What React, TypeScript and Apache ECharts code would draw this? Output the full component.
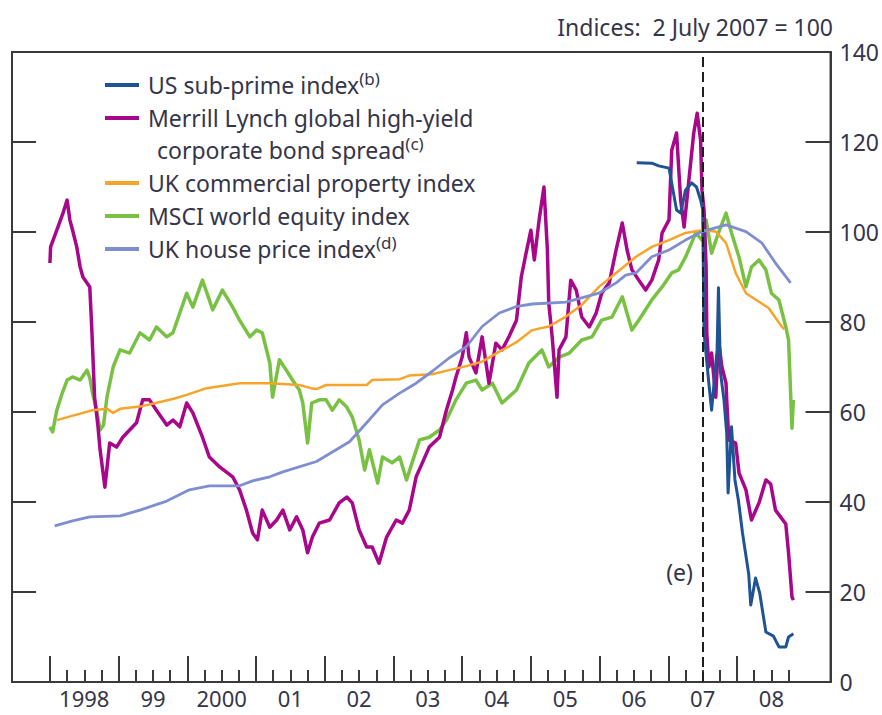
import React, { useEffect, useRef } from "react";
import * as echarts from "echarts";

// ---- Data (decimal years, index values: 2 July 2007 = 100) ----
const subPrimeDates = [2006.54, 2006.76, 2006.86, 2007.01, 2007.12, 2007.18, 2007.25, 2007.34, 2007.41, 2007.47, 2007.5, 2007.52, 2007.59, 2007.63, 2007.71, 2007.73, 2007.76, 2007.81, 2007.85, 2007.87, 2007.92, 2007.97, 2008.02, 2008.08, 2008.17, 2008.2, 2008.27, 2008.33, 2008.42, 2008.53, 2008.61, 2008.71, 2008.75, 2008.82];
const subPrimeValues = [115.4, 115.3, 114.7, 114.2, 104.9, 104.2, 109.3, 110.9, 110.0, 107.1, 105.0, 77.6, 66.4, 60.4, 73.8, 87.6, 68.7, 62.7, 55.3, 42.0, 56.7, 44.9, 40.4, 33.1, 24.0, 17.1, 23.1, 19.8, 11.1, 10.2, 7.8, 7.8, 10.0, 10.7];

const merrillDates = [1998.0, 1998.01, 1998.1, 1998.19, 1998.25, 1998.29, 1998.33, 1998.39, 1998.44, 1998.48, 1998.58, 1998.61, 1998.65, 1998.7, 1998.73, 1998.8, 1998.87, 1998.97, 1999.06, 1999.16, 1999.26, 1999.35, 1999.45, 1999.55, 1999.7, 1999.79, 1999.89, 1999.99, 2000.08, 2000.22, 2000.32, 2000.47, 2000.66, 2000.76, 2000.86, 2000.95, 2001.02, 2001.09, 2001.2, 2001.3, 2001.39, 2001.49, 2001.59, 2001.68, 2001.75, 2001.82, 2001.92, 2002.07, 2002.21, 2002.32, 2002.4, 2002.5, 2002.61, 2002.69, 2002.79, 2002.9, 2003.04, 2003.13, 2003.23, 2003.33, 2003.42, 2003.52, 2003.67, 2003.77, 2003.86, 2003.91, 2004.0, 2004.06, 2004.1, 2004.2, 2004.29, 2004.39, 2004.49, 2004.58, 2004.68, 2004.79, 2004.86, 2004.93, 2005.0, 2005.05, 2005.12, 2005.19, 2005.24, 2005.26, 2005.31, 2005.38, 2005.41, 2005.51, 2005.58, 2005.66, 2005.74, 2005.85, 2005.95, 2006.03, 2006.14, 2006.24, 2006.33, 2006.4, 2006.47, 2006.57, 2006.67, 2006.76, 2006.86, 2006.91, 2007.01, 2007.05, 2007.12, 2007.18, 2007.23, 2007.3, 2007.37, 2007.42, 2007.47, 2007.49, 2007.52, 2007.55, 2007.56, 2007.59, 2007.63, 2007.69, 2007.73, 2007.78, 2007.84, 2007.85, 2007.88, 2007.98, 2008.03, 2008.13, 2008.21, 2008.32, 2008.42, 2008.49, 2008.56, 2008.71, 2008.75, 2008.8, 2008.82];
const merrillValues = [93.1, 96.7, 100.4, 104.2, 107.1, 102.7, 100.4, 96.7, 92.2, 90.0, 87.8, 78.2, 63.3, 56.7, 51.6, 43.3, 53.1, 52.2, 54.4, 56.0, 57.6, 62.7, 62.7, 60.4, 57.1, 58.2, 56.7, 62.0, 59.8, 54.4, 50.0, 47.8, 45.6, 42.7, 38.2, 33.1, 31.6, 38.2, 34.4, 36.0, 38.2, 33.8, 36.7, 33.8, 28.7, 32.2, 35.3, 36.0, 39.8, 41.1, 39.8, 33.8, 30.0, 30.0, 26.4, 32.2, 36.0, 35.3, 38.2, 45.6, 48.7, 52.2, 54.4, 60.4, 64.9, 67.8, 72.2, 77.6, 72.2, 68.7, 76.7, 66.4, 75.3, 73.8, 76.7, 80.4, 90.0, 95.3, 100.4, 93.8, 102.7, 110.0, 96.0, 84.2, 76.7, 63.3, 73.8, 76.7, 89.3, 87.1, 81.1, 78.9, 82.0, 86.4, 88.7, 96.0, 102.0, 96.0, 91.6, 89.3, 87.1, 89.3, 93.8, 99.8, 102.7, 118.2, 122.0, 107.1, 101.1, 111.6, 122.0, 126.4, 120.4, 109.3, 104.9, 92.2, 77.6, 70.0, 73.1, 63.3, 76.0, 70.0, 66.4, 62.7, 53.8, 53.1, 46.4, 42.7, 36.0, 39.8, 44.9, 44.0, 38.2, 35.1, 28.7, 18.9, 18.2];

const commercialDates = [1998.1, 1998.48, 1998.62, 1998.83, 1998.92, 1999.02, 1999.31, 1999.79, 1999.99, 2000.28, 2000.76, 2001.2, 2001.63, 2001.8, 2001.88, 2002.02, 2002.61, 2002.69, 2003.09, 2003.23, 2003.56, 2003.81, 2004.06, 2004.29, 2004.54, 2004.78, 2005.02, 2005.26, 2005.51, 2005.74, 2005.99, 2006.24, 2006.53, 2006.76, 2007.01, 2007.25, 2007.49, 2007.69, 2007.84, 2007.98, 2008.13, 2008.32, 2008.46, 2008.65, 2008.69];
const commercialValues = [58.2, 59.8, 60.4, 60.7, 59.8, 60.7, 61.2, 62.9, 63.8, 65.3, 66.4, 66.4, 66.0, 65.3, 65.1, 66.0, 66.0, 67.1, 67.3, 68.1, 68.4, 69.3, 70.2, 71.2, 73.4, 75.4, 78.2, 79.0, 81.2, 83.8, 87.8, 90.9, 94.5, 96.7, 98.2, 99.8, 100.4, 100.1, 97.6, 90.9, 86.4, 84.5, 83.1, 79.0, 78.4];

const msciDates = [1998.0, 1998.04, 1998.1, 1998.17, 1998.25, 1998.33, 1998.44, 1998.54, 1998.58, 1998.62, 1998.68, 1998.73, 1998.78, 1998.83, 1998.92, 1999.02, 1999.16, 1999.31, 1999.45, 1999.55, 1999.7, 1999.79, 1999.89, 1999.99, 2000.08, 2000.22, 2000.37, 2000.51, 2000.66, 2000.76, 2000.91, 2001.01, 2001.09, 2001.2, 2001.24, 2001.34, 2001.44, 2001.53, 2001.63, 2001.68, 2001.75, 2001.81, 2001.92, 2002.02, 2002.11, 2002.21, 2002.32, 2002.4, 2002.5, 2002.58, 2002.65, 2002.77, 2002.84, 2002.98, 2003.09, 2003.19, 2003.27, 2003.38, 2003.52, 2003.67, 2003.77, 2003.91, 2004.06, 2004.2, 2004.29, 2004.44, 2004.58, 2004.79, 2004.97, 2005.16, 2005.26, 2005.41, 2005.56, 2005.74, 2005.89, 2006.03, 2006.18, 2006.33, 2006.47, 2006.57, 2006.76, 2006.91, 2007.05, 2007.15, 2007.25, 2007.4, 2007.49, 2007.55, 2007.63, 2007.73, 2007.84, 2007.92, 2008.03, 2008.13, 2008.21, 2008.32, 2008.42, 2008.5, 2008.61, 2008.71, 2008.75, 2008.78, 2008.8, 2008.82];
const msciValues = [56.7, 55.6, 60.4, 63.8, 67.1, 67.8, 67.1, 69.3, 67.6, 64.2, 60.4, 56.0, 57.1, 63.3, 70.0, 73.8, 73.1, 77.6, 76.0, 78.9, 76.7, 77.6, 82.0, 86.4, 83.3, 89.3, 82.7, 87.1, 83.3, 80.4, 76.7, 78.2, 77.6, 70.9, 63.3, 71.6, 69.3, 67.1, 64.9, 62.0, 53.1, 62.0, 62.7, 62.7, 60.4, 62.7, 61.1, 58.9, 53.8, 47.1, 51.6, 44.2, 50.0, 48.7, 50.0, 44.9, 48.7, 53.8, 54.4, 56.0, 58.2, 62.7, 66.4, 67.1, 64.9, 66.4, 62.0, 64.9, 70.9, 73.8, 70.0, 72.2, 73.1, 76.0, 76.7, 80.4, 81.1, 85.6, 78.2, 80.4, 84.9, 87.8, 90.9, 91.6, 94.4, 99.8, 98.2, 102.7, 95.3, 99.8, 104.2, 99.8, 94.4, 87.8, 92.2, 93.8, 91.6, 86.4, 84.9, 78.9, 76.0, 64.2, 56.4, 62.7];

const houseDates = [1998.07, 1998.33, 1998.58, 1999.02, 1999.31, 1999.7, 2000.03, 2000.32, 2000.76, 2000.95, 2001.2, 2001.39, 2001.88, 2002.36, 2002.61, 2002.84, 2003.09, 2003.33, 2003.56, 2003.81, 2004.06, 2004.29, 2004.54, 2004.78, 2005.02, 2005.51, 2005.99, 2006.24, 2006.38, 2006.53, 2006.76, 2007.01, 2007.25, 2007.49, 2007.84, 2008.13, 2008.36, 2008.56, 2008.78];
const houseValues = [34.7, 35.8, 36.7, 36.9, 38.2, 40.2, 42.7, 43.6, 43.6, 44.7, 45.6, 46.7, 49.0, 53.4, 57.6, 61.6, 64.2, 66.4, 69.0, 72.0, 74.5, 79.0, 82.0, 83.4, 84.0, 84.4, 86.4, 88.7, 90.4, 90.9, 94.5, 96.0, 98.2, 100.1, 101.6, 100.1, 97.6, 93.1, 88.7];

// ---- Axis ticks and labels ----
const yearTicks = [1998, 1999, 2000, 2001, 2002, 2003, 2004, 2005, 2006, 2007, 2008];
const yearLabelPositions = [1998.5, 1999.5, 2000.5, 2001.5, 2002.5, 2003.5, 2004.5, 2005.5, 2006.5, 2007.5, 2008.5];
const yearLabels = ["1998", "99", "2000", "01", "02", "03", "04", "05", "06", "07", "08"];
const quarterTicks: number[] = [];
yearTicks.forEach((y) => { quarterTicks.push(y + 0.25, y + 0.5, y + 0.75); });
const markerDate = 2007.5; // 2 July 2007

const names = {
  subPrime: "US sub-prime index",
  merrill: "Merrill Lynch global high-yield corporate bond spread",
  commercial: "UK commercial property index",
  msci: "MSCI world equity index",
  house: "UK house price index",
};

const FONT = "'Noto Sans', sans-serif";
const TEXT = "#35354a";
const AXIS = "#3a3a3a";
const FS = 23;
const X_MIN = 1997.448;
const X_MAX = 2009.361;

const zip = (d: number[], v: number[]) => d.map((x, i) => [x, v[i]]);

const richSup = {
  sup: { fontSize: 17, lineHeight: 17, verticalAlign: "top", padding: [0, 0, 13, 0], color: TEXT, fontFamily: FONT },
};

export default function App() {
  const ref = useRef<HTMLDivElement>(null);
  useEffect(() => {
    const chart = echarts.init(ref.current!, null, { renderer: "svg" });
    const lineBase = (name: string, color: string, width: number, d: number[], v: number[]) => ({
      name,
      type: "line",
      data: zip(d, v),
      showSymbol: false,
      symbol: "none",
      color,
      lineStyle: { color, width, join: "round" },
      xAxisIndex: 0,
      yAxisIndex: 0,
      z: 2,
    });
    const msci: any = lineBase(names.msci, "#79c143", 3.5, msciDates, msciValues);
    const merrill: any = lineBase(names.merrill, "#a8078c", 3.5, merrillDates, merrillValues);
    const sub: any = lineBase(names.subPrime, "#1f5394", 3, subPrimeDates, subPrimeValues);
    const comm: any = lineBase(names.commercial, "#f6a52a", 2.5, commercialDates, commercialValues);
    const house: any = lineBase(names.house, "#7f8ecf", 2.8, houseDates, houseValues);
    sub.markLine = {
      silent: true,
      symbol: "none",
      label: { show: false },
      lineStyle: { color: "#1e1e1e", width: 2, type: [10, 5] },
      data: [{ xAxis: markerDate }],
    };
    const legendCommon = {
      orient: "vertical",
      left: 105,
      itemWidth: 34,
      itemHeight: 4,
      itemGap: 3,
      icon: "rect",
      padding: 0,
      selectedMode: false,
      textStyle: { fontSize: FS, lineHeight: 30, color: TEXT, fontFamily: FONT, padding: [0, 0, 0, 4], rich: richSup },
    };
    const legendText: Record<string, string> = {
      [names.subPrime]: "US sub-prime index{sup|(b)}",
      [names.merrill]: "Merrill Lynch global high-yield",
      [names.commercial]: "UK commercial property index",
      [names.msci]: "MSCI world equity index",
      [names.house]: "UK house price index{sup|(d)}",
    };
    const option: any = {
      animation: false,
      backgroundColor: "#ffffff",
      textStyle: { fontFamily: FONT },
      title: {
        text: "Indices:  2 July 2007 = 100",
        right: 49,
        top: 15,
        padding: 0,
        textStyle: { fontSize: FS, fontWeight: "normal", color: TEXT, fontFamily: FONT },
      },
      grid: { left: 12, right: 50, top: 52, bottom: 33, show: true, borderColor: AXIS, borderWidth: 2 },
      legend: [
        { ...legendCommon, top: 70, data: [names.subPrime, names.merrill], formatter: (n: string) => legendText[n] },
        { ...legendCommon, top: 168, data: [names.commercial, names.msci, names.house], formatter: (n: string) => legendText[n] },
      ],
      xAxis: [
        {
          type: "value",
          min: X_MIN,
          max: X_MAX,
          position: "bottom",
          axisLine: { show: true, onZero: false, lineStyle: { color: AXIS, width: 2 } },
          axisTick: { show: true, inside: true, length: 26, customValues: yearTicks, lineStyle: { color: AXIS, width: 2 } },
          axisLabel: {
            show: true,
            customValues: yearLabelPositions,
            formatter: (v: number) => {
              const i = yearLabelPositions.findIndex((p) => Math.abs(p - v) < 0.01);
              return i >= 0 ? yearLabels[i] : "";
            },
            fontSize: 22,
            lineHeight: 22,
            color: TEXT,
            fontFamily: FONT,
            margin: 5,
          },
          splitLine: { show: false },
        },
        {
          type: "value",
          min: X_MIN,
          max: X_MAX,
          position: "bottom",
          axisLine: { show: false, onZero: false },
          axisTick: { show: true, inside: true, length: 12, customValues: quarterTicks, lineStyle: { color: AXIS, width: 2 } },
          axisLabel: { show: false },
          splitLine: { show: false },
        },
      ],
      yAxis: [
        {
          type: "value",
          position: "right",
          min: 0,
          max: 140,
          interval: 20,
          axisLine: { show: true, lineStyle: { color: AXIS, width: 2 } },
          axisTick: { show: true, inside: true, length: 25, lineStyle: { color: AXIS, width: 2 } },
          axisLabel: { fontSize: FS, color: TEXT, fontFamily: FONT, margin: 9 },
          splitLine: { show: false },
        },
        {
          type: "value",
          position: "left",
          min: 0,
          max: 140,
          interval: 20,
          axisLine: { show: true, lineStyle: { color: AXIS, width: 2 } },
          axisTick: { show: true, inside: true, length: 24, lineStyle: { color: AXIS, width: 2 } },
          axisLabel: { show: false },
          splitLine: { show: false },
        },
      ],
      graphic: [
        {
          type: "text",
          x: 157,
          y: 150,
          style: {
            text: "corporate bond spread{sup|(c)}",
            fontSize: FS,
            lineHeight: 30,
            fontFamily: FONT,
            fill: TEXT,
            verticalAlign: "middle",
            rich: richSup,
          },
        },
        {
          type: "text",
          x: 693,
          y: 572,
          style: { text: "(e)", fontSize: FS, fontFamily: FONT, fill: TEXT, align: "right", verticalAlign: "middle" },
        },
      ],
      series: [msci, merrill, sub, comm, house],
    };
    chart.setOption(option);
    return () => chart.dispose();
  }, []);
  return (
    <div
      ref={ref}
      style={{ position: "fixed", left: 0, top: 0, width: 882, height: 715, background: "#fff" }}
    />
  );
}
